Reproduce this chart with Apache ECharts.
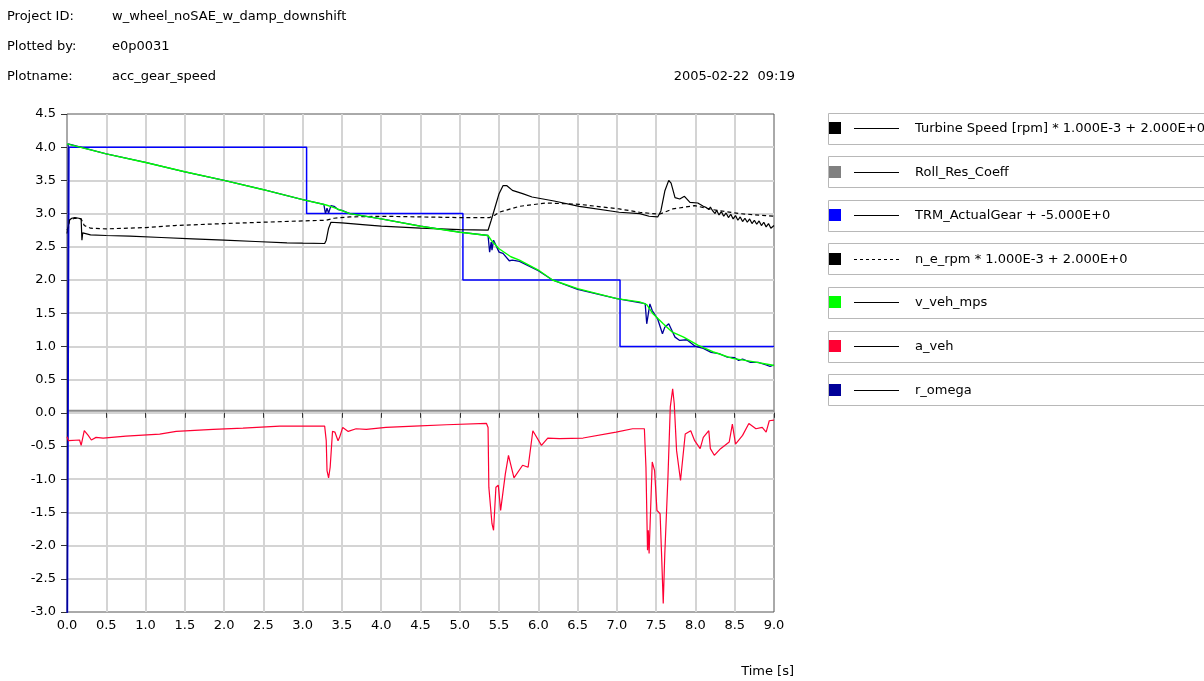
<!DOCTYPE html>
<html>
<head>
<meta charset="utf-8">
<script src="https://cdn.jsdelivr.net/npm/echarts@6/dist/echarts.min.js"></script>
<style>
  html, body { margin: 0; padding: 0; background: #ffffff; }
  #chart { width: 1204px; height: 681px; }
</style>
</head>
<body>
<div id="chart"></div>
<script>
// Header information
const headerLabels = ['Project ID:', 'Plotted by:', 'Plotname:'];
const headerValues = ['w_wheel_noSAE_w_damp_downshift', 'e0p0031', 'acc_gear_speed'];
const plotDate = '2005-02-22  09:19';
const xAxisTitle = 'Time [s]';

// Signal names and legend styling
const seriesNames = [
  'Turbine Speed [rpm] * 1.000E-3 + 2.000E+0',
  'Roll_Res_Coeff',
  'TRM_ActualGear + -5.000E+0',
  'n_e_rpm * 1.000E-3 + 2.000E+0',
  'v_veh_mps',
  'a_veh',
  'r_omega'
];
const seriesColors = ['#000000', '#808080', '#0000ff', '#000000', '#00ff00', '#ff0033', '#000099'];
const seriesDashed = [false, false, false, true, false, false, false];

// [time s, value]
const turbineSpeed = [
  [0, 2.7], [0.02, 2.72], [0.03, 2.9], [0.06, 2.93], [0.1, 2.94], [0.15, 2.93], [0.18, 2.92],
  [0.19, 2.6], [0.2, 2.71], [0.22, 2.68], [0.3, 2.68], [0.5, 2.67], [0.8, 2.66], [1.2, 2.64],
  [1.6, 2.62], [2.0, 2.6], [2.4, 2.58], [2.8, 2.56], [3.0, 2.555], [3.28, 2.55], [3.3, 2.6],
  [3.33, 2.78], [3.36, 2.87], [3.5, 2.86], [3.8, 2.83], [4.0, 2.81], [4.5, 2.78], [5.0, 2.76],
  [5.36, 2.75], [5.4, 2.9], [5.45, 3.1], [5.5, 3.3], [5.55, 3.42], [5.6, 3.42], [5.67, 3.35],
  [5.8, 3.3], [5.92, 3.25], [6.2, 3.19], [6.52, 3.11], [7.03, 3.02], [7.29, 3.0], [7.41, 2.96],
  [7.52, 2.95], [7.56, 3.04], [7.61, 3.34], [7.66, 3.5], [7.69, 3.46], [7.74, 3.24], [7.8, 3.22],
  [7.86, 3.26], [7.93, 3.17], [8.03, 3.16], [8.1, 3.11], [8.14, 3.09], [8.17, 3.06], [8.19, 3.1],
  [8.22, 3.04], [8.25, 3.0], [8.27, 3.05], [8.3, 2.98], [8.33, 3.03], [8.36, 2.96], [8.39, 3.01],
  [8.42, 2.94], [8.45, 2.99], [8.48, 2.92], [8.51, 2.97], [8.54, 2.9], [8.57, 2.95], [8.6, 2.88],
  [8.63, 2.93], [8.66, 2.87], [8.69, 2.92], [8.72, 2.85], [8.75, 2.9], [8.78, 2.84], [8.81, 2.89],
  [8.84, 2.82], [8.87, 2.87], [8.9, 2.8], [8.93, 2.85], [8.96, 2.78], [9.0, 2.82]
];

const rollResCoeff = [[0, 0.03], [9, 0.03]];

const actualGear = [[0, -5], [0.025, 4], [3.05, 3], [5.04, 2], [7.04, 1], [9.0, 1]];

const engineSpeed = [
  [0, 2.75], [0.02, 2.8], [0.03, 2.9], [0.1, 2.93], [0.18, 2.92], [0.22, 2.82], [0.3, 2.78],
  [0.5, 2.77], [1.0, 2.79], [1.37, 2.82], [2.0, 2.85], [2.5, 2.87], [3.0, 2.89], [3.3, 2.9],
  [3.4, 2.93], [3.6, 2.95], [4.0, 2.96], [4.5, 2.95], [5.0, 2.94], [5.38, 2.94], [5.45, 2.98],
  [5.5, 3.02], [5.76, 3.11], [6.1, 3.16], [6.52, 3.14], [7.03, 3.07], [7.29, 3.02], [7.54, 2.99],
  [7.71, 3.07], [7.99, 3.12], [8.22, 3.06], [8.56, 3.0], [9.0, 2.96]
];

const vehicleSpeed = [
  [0, 4.05], [0.1, 4.02], [0.5, 3.9], [1.0, 3.77], [1.5, 3.63], [2.0, 3.5], [2.5, 3.36],
  [3.0, 3.21], [3.3, 3.13], [3.4, 3.09], [3.6, 3.0], [4.0, 2.92], [4.5, 2.81], [5.0, 2.72],
  [5.36, 2.67], [5.4, 2.6], [5.5, 2.47], [5.65, 2.35], [5.76, 2.3], [6.0, 2.15], [6.18, 2.0],
  [6.5, 1.87], [7.0, 1.72], [7.29, 1.67], [7.38, 1.63], [7.46, 1.49], [7.59, 1.34], [7.7, 1.22],
  [7.85, 1.14], [8.03, 1.02], [8.22, 0.92], [8.47, 0.82], [8.73, 0.77], [8.97, 0.72], [9.0, 0.71]
];

const vehicleAccel = [
  [0, -0.36], [0.02, -0.42], [0.16, -0.41], [0.18, -0.49], [0.22, -0.27], [0.27, -0.34],
  [0.31, -0.41], [0.37, -0.37], [0.46, -0.38], [0.75, -0.35], [1.18, -0.32], [1.39, -0.28],
  [1.86, -0.25], [2.24, -0.23], [2.71, -0.2], [3.28, -0.2], [3.3, -0.42], [3.31, -0.87],
  [3.33, -0.98], [3.35, -0.82], [3.38, -0.28], [3.41, -0.29], [3.45, -0.42], [3.47, -0.37],
  [3.51, -0.22], [3.58, -0.28], [3.68, -0.24], [3.81, -0.25], [4.06, -0.22], [4.42, -0.2],
  [4.83, -0.18], [5.34, -0.16], [5.36, -0.22], [5.37, -1.12], [5.41, -1.67], [5.43, -1.77],
  [5.46, -1.12], [5.49, -1.09], [5.52, -1.47], [5.54, -1.49], [5.58, -0.92], [5.62, -0.64],
  [5.69, -0.98], [5.8, -0.79], [5.87, -0.82], [5.93, -0.27], [6.04, -0.49], [6.12, -0.38],
  [6.27, -0.39], [6.57, -0.38], [6.99, -0.29], [7.2, -0.24], [7.35, -0.24], [7.37, -0.82],
  [7.39, -2.07], [7.4, -1.77], [7.41, -2.12], [7.45, -0.74], [7.48, -0.87], [7.51, -1.47],
  [7.55, -1.52], [7.57, -2.17], [7.59, -2.87], [7.61, -2.12], [7.65, -0.97], [7.68, 0.09],
  [7.71, 0.36], [7.73, 0.14], [7.76, -0.57], [7.81, -1.02], [7.87, -0.32], [7.94, -0.27],
  [7.99, -0.42], [8.06, -0.54], [8.1, -0.37], [8.17, -0.27], [8.19, -0.54], [8.24, -0.64],
  [8.32, -0.54], [8.43, -0.44], [8.47, -0.17], [8.51, -0.47], [8.6, -0.34], [8.68, -0.16],
  [8.77, -0.24], [8.85, -0.22], [8.9, -0.29], [8.94, -0.12], [9.0, -0.11]
];

const wheelOmega = [
  [0, -5], [0.015, -5], [0.015, 4.05], [0.5, 3.9], [1.0, 3.77], [1.5, 3.63], [2.0, 3.5],
  [2.5, 3.36], [3.0, 3.21], [3.27, 3.14], [3.29, 3.0], [3.31, 3.08], [3.33, 3.01], [3.36, 3.12],
  [3.4, 3.11], [3.45, 3.06], [3.5, 3.05], [3.6, 3.0], [4.0, 2.92], [4.5, 2.81], [5.0, 2.72],
  [5.36, 2.67], [5.38, 2.42], [5.4, 2.57], [5.41, 2.45], [5.43, 2.6], [5.5, 2.42], [5.55, 2.4],
  [5.63, 2.29], [5.67, 2.3], [5.76, 2.28], [6.0, 2.14], [6.18, 2.0], [6.5, 1.86], [7.0, 1.72],
  [7.36, 1.645], [7.38, 1.34], [7.42, 1.64], [7.45, 1.54], [7.52, 1.41], [7.58, 1.19],
  [7.61, 1.29], [7.66, 1.34], [7.7, 1.24], [7.74, 1.14], [7.8, 1.09], [7.89, 1.1], [8.0, 1.0],
  [8.1, 0.97], [8.2, 0.91], [8.3, 0.89], [8.4, 0.84], [8.5, 0.83], [8.55, 0.79], [8.6, 0.81],
  [8.7, 0.76], [8.8, 0.76], [8.9, 0.72], [8.95, 0.7], [9.0, 0.72]
];

// Axis ranges
const xMin = 0, xMax = 9, xStep = 0.5;
const yMin = -3, yMax = 4.5, yStep = 0.5;

const FONT = 'DejaVu Sans';
const chart = echarts.init(document.getElementById('chart'), null, { renderer: 'canvas' });

function lineSeries(idx, data, extra) {
  return Object.assign({
    name: seriesNames[idx],
    type: 'line',
    data: data,
    showSymbol: false,
    symbol: 'none',
    animation: false,
    silent: true,
    lineStyle: {
      color: seriesColors[idx],
      width: 1.2,
      type: seriesDashed[idx] ? [4, 3] : 'solid'
    }
  }, extra || {});
}

// Header texts and legend panel drawn as graphic elements
const graphics = [];
headerLabels.forEach((lab, i) => {
  graphics.push({ type: 'text', left: 7, top: 10 + i * 30, style: { text: lab, font: '13px ' + FONT, fill: '#000' } });
  graphics.push({ type: 'text', left: 112, top: 10 + i * 30, style: { text: headerValues[i], font: '13px ' + FONT, fill: '#000' } });
});
graphics.push({ type: 'text', right: 1204 - 795, top: 70, style: { text: plotDate, font: '13px ' + FONT, fill: '#000', align: 'right' } });
graphics.push({ type: 'text', right: 1204 - 794, top: 665, style: { text: xAxisTitle, font: '13px ' + FONT, fill: '#000', align: 'right' } });

seriesNames.forEach((name, i) => {
  const top = 112.5 + i * 43.6;
  const cy = Math.round(top + 15.5) + 0.5;
  graphics.push({ type: 'rect', shape: { x: 828.5, y: Math.round(top) + 0.5, width: 420, height: 31 },
    style: { fill: '#ffffff', stroke: '#b8b8b8', lineWidth: 1 }, silent: true });
  graphics.push({ type: 'rect', shape: { x: 829, y: Math.round(cy - 6.5), width: 12, height: 12 },
    style: { fill: seriesColors[i] }, silent: true });
  graphics.push({ type: 'line', shape: { x1: 854, y1: cy, x2: 899, y2: cy },
    style: { stroke: '#000', lineWidth: 1, lineDash: seriesDashed[i] ? [3, 3] : null }, silent: true });
  graphics.push({ type: 'text', x: 915, y: cy, style: { text: name, font: '13px ' + FONT, fill: '#000', verticalAlign: 'middle' }, silent: true });
});

const option = {
  animation: false,
  backgroundColor: '#ffffff',
  textStyle: { fontFamily: FONT },
  grid: { left: 67, top: 114, right: 430, bottom: 69, show: true, borderColor: '#555', borderWidth: 1, backgroundColor: 'transparent' },
  xAxis: {
    type: 'value', min: xMin, max: xMax, interval: xStep, offset: 3,
    axisLine: { show: false },
    axisTick: { show: true, length: 5, lineStyle: { color: '#333' } },
    axisLabel: { margin: 4, color: '#000', fontSize: 13, fontFamily: FONT, formatter: v => v.toFixed(1) },
    splitLine: { show: true, showMinLine: false, showMaxLine: false, lineStyle: { color: '#d4d4d4', width: 2 } }
  },
  yAxis: {
    type: 'value', min: yMin, max: yMax, interval: yStep, offset: 3,
    axisLine: { show: false },
    axisTick: { show: true, length: 6, lineStyle: { color: '#333' } },
    axisLabel: { margin: 8, color: '#000', fontSize: 13, fontFamily: FONT, formatter: v => v.toFixed(1) },
    splitLine: { show: true, showMinLine: false, showMaxLine: false, lineStyle: { color: '#d4d4d4', width: 2 } }
  },
  series: [
    lineSeries(1, rollResCoeff, { z: 2, lineStyle: { color: '#8c8c8c', width: 2 } }),
    lineSeries(2, actualGear, { z: 3, step: 'end', lineStyle: { color: seriesColors[2], width: 1.5 } }),
    lineSeries(3, engineSpeed, { z: 4 }),
    lineSeries(0, turbineSpeed, { z: 5 }),
    lineSeries(6, wheelOmega, { z: 6, lineStyle: { color: seriesColors[6], width: 1.3 } }),
    lineSeries(4, vehicleSpeed, { z: 7, lineStyle: { color: seriesColors[4], width: 1.4 } }),
    lineSeries(5, vehicleAccel, { z: 8, lineStyle: { color: seriesColors[5], width: 1.2 } })
  ],
  graphic: graphics
};

chart.setOption(option);
</script>
</body>
</html>
